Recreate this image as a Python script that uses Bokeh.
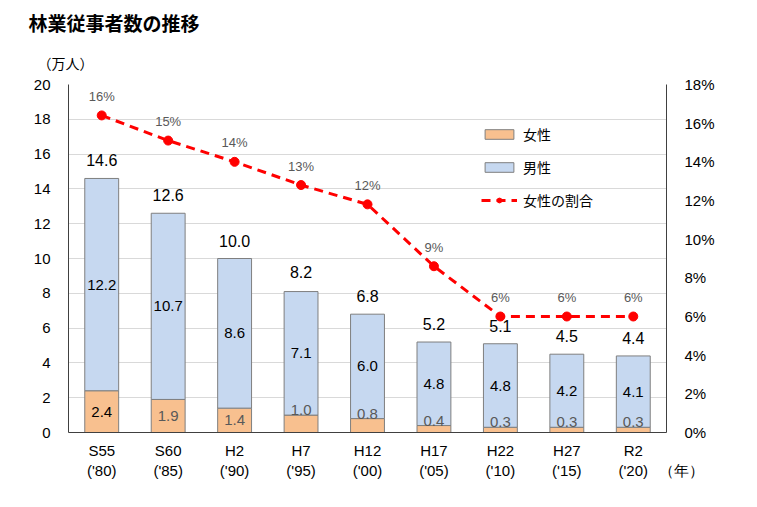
from bokeh.plotting import figure
from bokeh.models import (Range1d, LinearAxis, FixedTicker, PrintfTickFormatter,
                          ColumnDataSource, Legend, LegendItem, Title)
from bokeh.core.properties import value
from bokeh.embed import file_html
from bokeh.resources import INLINE

categories = ["S55\n('80)", "S60\n('85)", "H2\n('90)", "H7\n('95)", "H12\n('00)",
              "H17\n('05)", "H22\n('10)", "H27\n('15)", "R2\n('20)"]
female = [2.4, 1.9, 1.4, 1.0, 0.8, 0.4, 0.3, 0.3, 0.3]
male = [12.2, 10.7, 8.6, 7.1, 6.0, 4.8, 4.8, 4.2, 4.1]
total = [14.6, 12.6, 10.0, 8.2, 6.8, 5.2, 5.1, 4.5, 4.4]
ratio = [16.4, 15.1, 14.0, 12.8, 11.8, 8.6, 6.0, 6.0, 6.0]
ratio_labels = ["16%", "15%", "14%", "13%", "12%", "9%", "6%", "6%", "6%"]
left_ticks = [0, 2, 4, 6, 8, 10, 12, 14, 16, 18, 20]
right_ticks = [0, 2, 4, 6, 8, 10, 12, 14, 16, 18]
title_text = "林業従事者数の推移"
y_unit = "（万人）"
x_unit = "（年）"

FONT = "Liberation Sans"
JP = "Noto Sans CJK JP"
F_COL = "#F8C08F"
M_COL = "#C6D8F0"

x = list(range(len(categories)))
x_end = len(categories) - 0.5

p = figure(frame_width=598, frame_height=348, output_backend="svg",
           toolbar_location=None, title=title_text,
           x_range=Range1d(-0.5, x_end), y_range=Range1d(0, 20))
p.min_border_left = 68
p.min_border_right = 75
p.min_border_top = 84
p.min_border_bottom = 50
p.outline_line_color = None
p.background_fill_color = "white"
p.border_fill_color = "white"

p.title.text_font = JP
p.title.text_font_size = "19px"
p.title.text_font_style = "bold"
p.title.text_color = "#000000"
p.title.align = "left"
p.title.offset = -40
p.title.standoff = 6

p.add_layout(Title(text=y_unit, text_font=JP, text_font_size="14px",
                   text_font_style="normal", text_color="#000000", align="left",
                   offset=-31, standoff=24), "above")

p.extra_y_ranges = {"pct": Range1d(0, 18)}

p.xgrid.grid_line_color = None
p.ygrid.ticker = FixedTicker(ticks=left_ticks)
p.ygrid.grid_line_color = "#D9D9D9"
p.ygrid.grid_line_width = 1

p.yaxis.ticker = FixedTicker(ticks=left_ticks)
p.yaxis.axis_line_color = "#404040"
p.yaxis.major_tick_line_color = None
p.yaxis.minor_tick_line_color = None
p.yaxis.major_label_text_font = FONT
p.yaxis.major_label_text_font_size = "15px"
p.yaxis.major_label_text_color = "#000000"
p.yaxis.major_label_standoff = 12

overrides = {i: c for i, c in enumerate(categories)}
overrides[x_end] = "\n\u3000\u3000" + x_unit
p.xaxis.ticker = FixedTicker(ticks=x + [x_end])
p.xaxis.major_label_overrides = overrides
p.xaxis.axis_line_color = "#404040"
p.xaxis.major_tick_line_color = None
p.xaxis.minor_tick_line_color = None
p.xaxis.major_label_text_font = FONT
p.xaxis.major_label_text_font_size = "15px"
p.xaxis.major_label_text_color = "#000000"
p.xaxis.major_label_standoff = 3

ry = LinearAxis(y_range_name="pct", ticker=FixedTicker(ticks=right_ticks),
                formatter=PrintfTickFormatter(format="%d%%"))
ry.axis_line_color = "#404040"
ry.major_tick_line_color = None
ry.minor_tick_line_color = None
ry.major_label_text_font = FONT
ry.major_label_text_font_size = "15px"
ry.major_label_text_color = "#000000"
ry.major_label_standoff = 12
p.add_layout(ry, "right")

female_label_y = [f / 2 if f >= 1.4 else f for f in female]
female_label_base = ["middle" if f >= 1.4 else "bottom" for f in female]
female_label_col = ["#000000" if f >= 2 else "#595959" for f in female]

src = ColumnDataSource(dict(
    x=x, female=female, male=male, total=total,
    mtop=[f + m for f, m in zip(female, male)],
    mmid=[f + m / 2 for f, m in zip(female, male)],
    ftxt=[f"{v:.1f}" for v in female],
    mtxt=[f"{v:.1f}" for v in male],
    ttxt=[f"{v:.1f}" for v in total],
    fy=female_label_y, fbase=female_label_base, fcol=female_label_col,
    ratio=ratio, rtxt=ratio_labels,
))

rf = p.vbar(x="x", bottom=0, top="female", width=0.51, source=src,
            fill_color=F_COL, line_color="#7F7F7F", line_width=1)
rm = p.vbar(x="x", bottom="female", top="mtop", width=0.51, source=src,
            fill_color=M_COL, line_color="#7F7F7F", line_width=1)

rl = p.line(x="x", y="ratio", source=src, y_range_name="pct",
            line_color="#FF0000", line_width=3, line_dash="9 6")
rs = p.scatter(x="x", y="ratio", source=src, y_range_name="pct",
               marker="circle", size=9, fill_color="#FF0000", line_color="#FF0000")

p.text(x="x", y="fy", text="ftxt", source=src, text_align="center",
       text_baseline="fbase", text_color="fcol", text_font=value(FONT),
       text_font_size="15px")
p.text(x="x", y="mmid", text="mtxt", source=src, text_align="center",
       text_baseline="middle", text_color="#000000", text_font=value(FONT),
       text_font_size="15px")
p.text(x="x", y="total", text="ttxt", source=src, text_align="center",
       text_baseline="middle", y_offset=-18, text_color="#000000",
       text_font=value(FONT), text_font_size="16px")
p.text(x="x", y="ratio", text="rtxt", source=src, y_range_name="pct",
       text_align="center", text_baseline="middle", y_offset=-19,
       text_color="#595959", text_font=value(FONT), text_font_size="13px")

legend = Legend(items=[
    LegendItem(label="女性", renderers=[rf]),
    LegendItem(label="男性", renderers=[rm]),
    LegendItem(label="女性の割合", renderers=[rl, rs]),
], location=(413, 222))
legend.background_fill_alpha = 0
legend.border_line_color = None
legend.label_text_font = JP
legend.label_text_font_size = "14px"
legend.label_text_color = "#000000"
legend.glyph_width = 36
legend.glyph_height = 12
legend.label_height = 20
legend.spacing = 13
legend.padding = 4
legend.label_standoff = 6
p.add_layout(legend, "center")

open("out.html", "w").write(file_html(p, INLINE))
